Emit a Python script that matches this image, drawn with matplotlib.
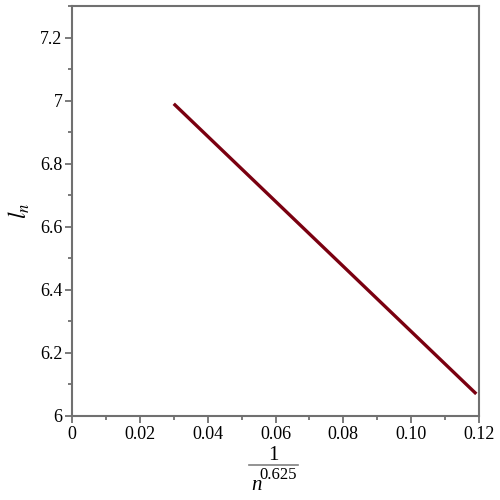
import matplotlib
matplotlib.use('Agg')
from matplotlib import pyplot as plt
from matplotlib import ticker as plticker
from matplotlib.lines import Line2D

# data
x_vals = [0.0300, 0.1192]
y_vals = [6.990, 6.070]

x_ticks = [0, 0.02, 0.04, 0.06, 0.08, 0.10, 0.12]
x_tick_labels = ['0', '0.02', '0.04', '0.06', '0.08', '0.10', '0.12']
y_ticks = [6, 6.2, 6.4, 6.6, 6.8, 7, 7.2]
y_tick_labels = ['6', '6.2', '6.4', '6.6', '6.8', '7', '7.2']

plt.rcParams['font.family'] = ['Liberation Serif', 'DejaVu Serif']
plt.rcParams['mathtext.fontset'] = 'stix'

fig = plt.figure(figsize=(5, 5), dpi=100)
ax = fig.add_axes([0.144, 0.168, 0.814, 0.820])

ax.plot(x_vals, y_vals, color='#7a0010', linewidth=2.4, solid_capstyle='butt')

ax.set_xlim(0, 0.12)
ax.set_ylim(6, 7.3)
ax.set_xticks(x_ticks)
ax.set_xticklabels(x_tick_labels)
ax.set_yticks(y_ticks)
ax.set_yticklabels(y_tick_labels)
ax.xaxis.set_minor_locator(plticker.MultipleLocator(0.01))
ax.yaxis.set_minor_locator(plticker.MultipleLocator(0.1))

spine_col = '#707070'
for s in ax.spines.values():
    s.set_color(spine_col)
    s.set_linewidth(1.5)
ax.tick_params(which='both', direction='out', color=spine_col, width=1.3,
               labelsize=13, labelcolor='black')
ax.tick_params(which='major', length=5, pad=2)
ax.tick_params(which='minor', length=3)

# x label as a hand-set fraction, like the Maple layout
fig.text(273 / 500, 1 - 455 / 500, '1', fontsize=15, ha='center', va='center')
fig.add_artist(Line2D([249 / 500, 298 / 500], [1 - 465 / 500, 1 - 465 / 500],
                      color='#808080', linewidth=1.2))
fig.text(278 / 500, 1 - 475 / 500, '0.625', fontsize=12, ha='center', va='center')
fig.text(256 / 500, 1 - 485 / 500, 'n', fontsize=15, style='italic',
         ha='center', va='center')

ax.set_ylabel(r'$l_n$', fontsize=17, labelpad=6)

fig.savefig('out.png', dpi=100)
